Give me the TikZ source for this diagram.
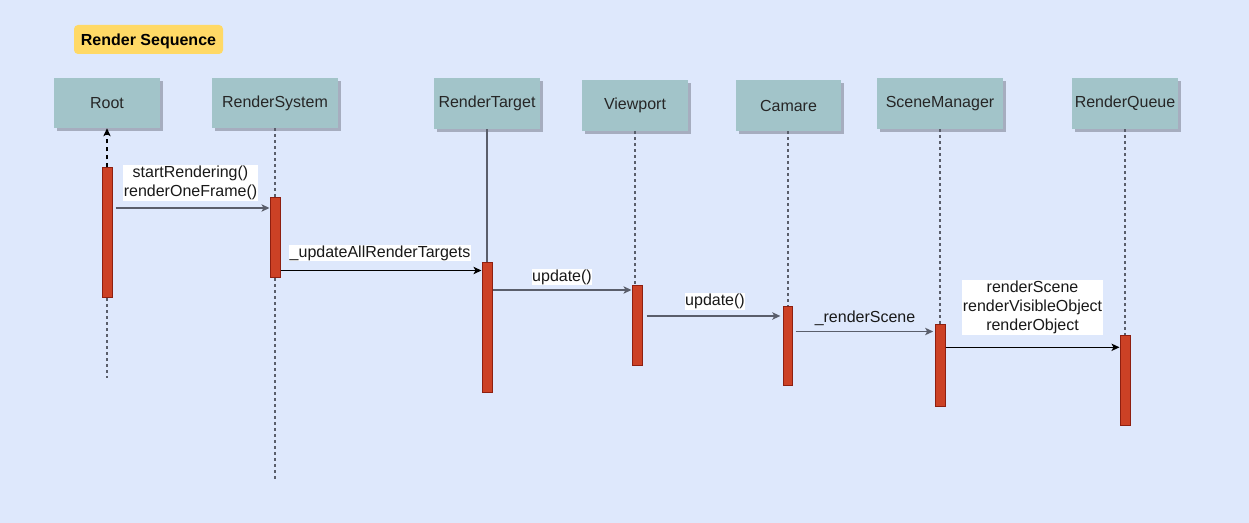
\documentclass[tikz,border=0pt]{standalone}
\usepackage{fontspec}
\setmainfont{Liberation Sans}
\usetikzlibrary{arrows.meta,shadows,calc}
\definecolor{bgc}{HTML}{DEE8FC}
\definecolor{partc}{HTML}{A2C4C9}
\definecolor{shc}{HTML}{A6ADBF}
\definecolor{actc}{HTML}{CC4125}
\definecolor{actd}{HTML}{8E1F10}
\definecolor{titc}{HTML}{FFD966}
\definecolor{linec}{HTML}{5A5E6B}
\begin{document}
\begin{tikzpicture}[x=0.75pt,y=-0.75pt,
  font=\fontsize{12}{14.25}\selectfont,
  part/.style={rectangle, fill=partc, draw=none, text=black!85, inner sep=0pt,
    drop shadow={shadow xshift=2.25pt, shadow yshift=-2.25pt, fill=shc, opacity=1}},
  actbox/.style={rectangle, fill=actc, draw=actd, line width=0.75pt, inner sep=0pt, minimum width=7.5pt},
  lifeline/.style={draw=linec, line width=1.1pt, dash pattern=on 2.25pt off 2.25pt},
  msg/.style={draw=linec, line width=1.1pt, -{Stealth[length=6pt,width=5.5pt,inset=1.5pt]}},
  msgk/.style={msg, draw=black},
  lbl/.style={fill=white, inner xsep=0.5pt, inner ysep=0.5pt, align=center, text=black!90},
  lbln/.style={inner sep=0.5pt, align=center, text=black!90}
]
% background
\path[fill=bgc] (0,0) rectangle (1249,523);
\useasboundingbox (0,0) rectangle (1249,523);

% title
\node[fill=titc, rounded corners=3pt, minimum width=111.75pt, minimum height=21.75pt, inner sep=0pt, text depth=0pt, font=\fontsize{12}{14}\selectfont\bfseries] (title) at (148.5,39.5) {Render Sequence};

% participants
\node[part, minimum width=79.5pt, minimum height=37.5pt] (root) at (107,103) {Root};
\node[part, minimum width=94.5pt, minimum height=37.5pt] (rs) at (275,103) {RenderSystem};
\node[part, minimum width=79.5pt, minimum height=38.25pt] (rt) at (487,103.5) {RenderTarget};
\node[part, minimum width=79.5pt, minimum height=38.25pt] (vp) at (635,105.5) {Viewport};
\node[part, minimum width=78.75pt, minimum height=38.25pt] (cam) at (788.5,105.5) {Camare};
\node[part, minimum width=94.5pt, minimum height=38.25pt] (sm) at (940,103.5) {SceneManager};
\node[part, minimum width=79.5pt, minimum height=38.25pt] (rq) at (1125,103.5) {RenderQueue};

% activations
\node[actbox, minimum height=97.5pt] (ra) at (107,233) {};
\node[actbox, minimum height=60pt] (rsa) at (275,238) {};
\node[actbox, minimum height=97.5pt] (rta) at (487,327.5) {};
\node[actbox, minimum height=60pt] (vpa) at (637,326) {};
\node[actbox, minimum height=59.25pt, minimum width=6.75pt] (cama) at (788,346.5) {};
\node[actbox, minimum height=61.5pt] (sma) at (940,365.5) {};
\node[actbox, minimum height=67.5pt] (rqa) at (1125,381) {};

% lifeline ends
\coordinate (rootend) at (107,378);
\coordinate (rsend) at (275,480);

% lifelines
\draw[dashed, line width=0.9pt, -{Stealth[length=6pt,width=5.5pt,inset=1.5pt]}] (ra.north) -- (root.south);
\draw[lifeline] (ra.south) -- (rootend);
\draw[lifeline] (rs.south) -- (rsa.north);
\draw[lifeline] (rsa.south) -- (rsend);
\draw[draw=linec, line width=1.1pt] (rt.south) -- (rta.north);
\draw[lifeline] (vp.south) -- (vp.south |- vpa.north);
\draw[lifeline] (cam.south -| cama.north) -- (cama.north);
\draw[lifeline] (sm.south) -- (sma.north);
\draw[lifeline] (rq.south) -- (rqa.north);

% message heights
\coordinate (y1) at (0,208);
\coordinate (y2) at (0,270.5);
\coordinate (y3) at (0,290);
\coordinate (y4) at (0,316);
\coordinate (y5) at (0,331.5);
\coordinate (y6) at (0,347.3);

% messages
\draw[msg] ([xshift=2.25pt]ra.east |- y1) -- (rsa.west |- y1);
\draw[msgk] (rsa.east |- y2) -- (rta.west |- y2);
\draw[msg] (rta.east |- y3) -- (vpa.west |- y3);
\draw[msg] ([xshift=3pt]vpa.east |- y4) -- ([xshift=-2pt]cama.west |- y4);
\draw[msg] ([xshift=2pt]cama.east |- y5) -- ([xshift=-1pt]sma.west |- y5);
\draw[msgk] (sma.east |- y6) -- (rqa.west |- y6);

% labels
\node[lbl] (l1) at (190.5,183) {startRendering()\\renderOneFrame()};
\node[lbl] (l2) at (380,253) {\_updateAllRenderTargets};
\node[lbl] (l3) at (562,277) {update()};
\node[lbl] (l4) at (715,301.5) {update()};
\node[lbln] (l5) at (865,318) {\_renderScene};
\node[lbl] (l6) at (1032.5,307.5) {renderScene\\renderVisibleObject\\renderObject};
\end{tikzpicture}
\end{document}
